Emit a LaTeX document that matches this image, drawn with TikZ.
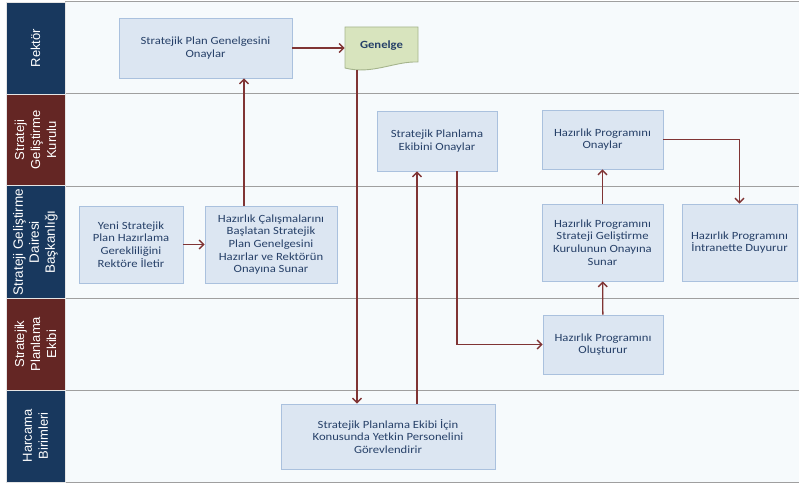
\documentclass[tikz,border=0pt]{standalone}
\usepackage{fontspec}
\setmainfont{Liberation Sans}
\newfontfamily\kutufont[FakeStretch=1.15]{Carlito}
\usetikzlibrary{arrows.meta}

\definecolor{seritmavi}{RGB}{24,56,94}
\definecolor{seritkirmizi}{RGB}{100,38,36}
\definecolor{okrenk}{RGB}{128,52,52}
\definecolor{kutudolgu}{RGB}{220,230,242}
\definecolor{kutucizgi}{RGB}{170,193,222}
\definecolor{kutuyazi}{RGB}{38,64,104}
\definecolor{zemin}{RGB}{246,250,252}
\definecolor{belgedolgu}{RGB}{216,228,190}
\definecolor{belgecizgi}{RGB}{165,180,140}

\tikzset{
  kutu/.style={draw=kutucizgi, fill=kutudolgu, line width=0.9pt, align=center,
    text=kutuyazi, inner sep=2pt, font=\kutufont\fontsize{11}{12.6}\selectfont},
  belge/.style={draw=belgecizgi, fill=belgedolgu, line width=0.9pt},
  belgeyazi/.style={minimum width=73pt, minimum height=38pt, inner sep=0pt,
    text=kutuyazi, font=\kutufont\bfseries\fontsize{11}{12.6}\selectfont},
  baslik/.style={draw=white!80!gray, line width=0.6pt, minimum height=59pt,
    rotate=90, align=center, text=white, font=\fontsize{13}{16}\selectfont},
  ok/.style={draw=okrenk, line width=1.3pt, -{Straight Barb[length=4.5pt,width=9pt]}},
}

\begin{document}
\begin{tikzpicture}[x=1pt,y=-1pt]
\useasboundingbox (0,0) rectangle (799,484);

% kulvarlar
\fill[zemin] (65,2) rectangle (799,482);
\foreach \y in {2,94,186,298,390,482}
  \draw[gray!75, line width=1pt] (65,\y) -- (799,\y);

\node[baslik, fill=seritmavi, minimum width=92pt] at (35.5,48) (rektor) {Rektör};
\node[baslik, fill=seritkirmizi, minimum width=92pt] at (35.5,140) (kurul) {Strateji\\Geliştirme\\Kurulu};
\node[baslik, fill=seritmavi, minimum width=112pt, font=\fontsize{13.5}{16}\selectfont] at (35.5,242) (daire) {Strateji Geliştirme\\Dairesi\\Başkanlığı};
\node[baslik, fill=seritkirmizi, minimum width=92pt] at (35.5,344) (ekip) {Stratejik\\Planlama\\Ekibi};
\node[baslik, fill=seritmavi, minimum width=92pt] at (35.5,436) (birim) {Harcama\\Birimleri};

% adimlar
\node[kutu, minimum width=173pt, minimum height=60pt] at (205.5,48) (spg) {Stratejik Plan Genelgesini\\Onaylar};
\draw[belge] (345,27) -- (418,27) -- (418,62)
  .. controls (395,61) and (372,75) .. (345,68) -- cycle
  (381.5,46) node[belgeyazi] (genelge) {Genelge};
\coordinate (genelgealt) at (357,70);

\node[kutu, minimum width=120pt, minimum height=60pt] at (437,141) (speo) {Stratejik Planlama\\Ekibini Onaylar};
\node[kutu, minimum width=121pt, minimum height=59pt] at (602.5,139.5) (hpo) {Hazırlık Programını\\Onaylar};

\node[kutu, minimum width=104pt, minimum height=77pt] at (131,244.5) (yeni) {Yeni Stratejik\\Plan Hazırlama\\Gerekliliğini\\Rektöre İletir};
\node[kutu, minimum width=132pt, minimum height=77pt] at (271,244.5) (hcal) {Hazırlık Çalışmalarını\\Başlatan Stratejik\\Plan Genelgesini\\Hazırlar ve Rektörün\\Onayına Sunar};
\node[kutu, minimum width=121pt, minimum height=77pt] at (602.5,242.5) (hpsun) {Hazırlık Programını\\Strateji Geliştirme\\Kurulunun Onayına\\Sunar};
\node[kutu, minimum width=115pt, minimum height=77pt] at (739.5,242.5) (hpduy) {Hazırlık Programını\\İntranette Duyurur};

\node[kutu, minimum width=120pt, minimum height=59pt] at (603,344.5) (hpolus) {Hazırlık Programını\\Oluşturur};
\node[kutu, minimum width=214pt, minimum height=65pt] at (388,436.5) (speicin) {Stratejik Planlama Ekibi İçin\\Konusunda Yetkin Personelini\\Görevlendirir};

% oklar
\draw[ok] (yeni) -- (hcal);
\draw[ok] ([xshift=-27pt]hcal.north) -- ([xshift=-27pt]hcal.north |- spg.south);
\draw[ok] (spg.east) -- (spg.east -| genelge.west);
\draw[ok] (genelgealt) -- (genelgealt |- speicin.north);
\draw[ok] ([xshift=-20pt]speo.south |- speicin.north) -- ([xshift=-20pt]speo.south);
\draw[ok] ([xshift=20pt]speo.south) |- (hpolus);
\draw[ok] (hpolus) -- (hpsun);
\draw[ok] (hpsun) -- (hpo);
\draw[ok] (hpo) -| (hpduy);
\end{tikzpicture}
\end{document}
